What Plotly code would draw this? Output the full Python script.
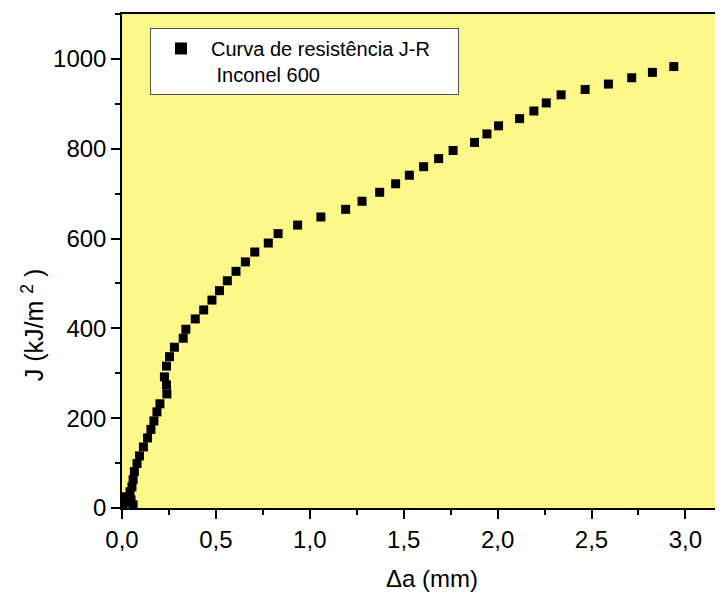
import plotly.graph_objects as go

# Crack extension Δa (mm) and J-integral (kJ/m²)
delta_a = [0.005, 0.027, 0.059, 0.016, 0.048, 0.043, 0.053, 0.059, 0.066, 0.080,
           0.093, 0.114, 0.136, 0.154, 0.170, 0.186, 0.202, 0.239, 0.237, 0.226,
           0.237, 0.253, 0.279, 0.326, 0.340, 0.390, 0.435, 0.479, 0.519, 0.561,
           0.607, 0.657, 0.707, 0.779, 0.831, 0.935, 1.059, 1.191, 1.278, 1.372,
           1.457, 1.530, 1.606, 1.686, 1.763, 1.877, 1.943, 2.005, 2.117, 2.193,
           2.259, 2.338, 2.466, 2.590, 2.714, 2.824, 2.938]
j_values = [5, 12, 7, 25, 18, 36, 47, 63, 81, 99,
            116, 136, 156, 175, 194, 214, 232, 254, 274, 292,
            316, 337, 358, 378, 398, 421, 441, 463, 484, 506,
            527, 548, 570, 590, 611, 630, 648, 665, 683, 703,
            722, 741, 760, 778, 796, 814, 833, 851, 867, 884,
            902, 920, 932, 944, 958, 970, 983]

series_name = "Curva de resistência J-R&nbsp;&nbsp;&nbsp;&nbsp;<br>&nbsp;Inconel 600"
x_title = "Δa (mm)"
y_title = "J (kJ/m&nbsp;<sup>2</sup>&nbsp;)"

FONT = "Liberation Sans, Arial, sans-serif"

fig = go.Figure()
fig.add_trace(go.Scatter(
    x=delta_a, y=j_values, mode="markers", name=series_name,
    marker=dict(symbol="square", size=9, color="black"),
    cliponaxis=True,
))

fig.update_layout(
    width=715, height=587,
    margin=dict(l=114, r=0, t=6, b=87),
    paper_bgcolor="white",
    plot_bgcolor="#FDF78A",
    separators=",.",
    showlegend=True,
    font=dict(family=FONT, color="black", size=24),
    legend=dict(
        x=0.0466, y=0.9717, xanchor="left", yanchor="top",
        bgcolor="white", bordercolor="#555555", borderwidth=1,
        font=dict(family=FONT, size=20, color="black"),
        itemsizing="constant", itemwidth=50, valign="top",
    ),
    xaxis=dict(
        range=[0, 3.2], tickmode="linear", tick0=0, dtick=0.5, tickformat=".1f",
        ticks="outside", ticklen=9, tickwidth=1.5, tickcolor="black",
        showline=True, linecolor="black", linewidth=1.5, mirror=True,
        showgrid=False, zeroline=False,
        tickfont=dict(family=FONT, size=24),
        minor=dict(dtick=0.25, ticks="outside", ticklen=5, tickwidth=1.5, tickcolor="black"),
    ),
    yaxis=dict(
        range=[0, 1100], tickmode="linear", tick0=0, dtick=200,
        ticks="outside", ticklen=9, tickwidth=1.5, tickcolor="black",
        showline=True, linecolor="black", linewidth=1.5, mirror=False,
        showgrid=False, zeroline=False,
        tickfont=dict(family=FONT, size=24),
        minor=dict(dtick=100, ticks="outside", ticklen=5, tickwidth=1.5, tickcolor="black"),
    ),
    annotations=[
        dict(text=x_title, xref="paper", yref="paper", x=0.516, y=-0.142,
             xanchor="center", yanchor="middle", showarrow=False,
             font=dict(family=FONT, size=24)),
        dict(text=y_title, xref="paper", yref="paper", x=-0.148, y=0.37,
             xanchor="center", yanchor="middle", showarrow=False, textangle=-90,
             font=dict(family=FONT, size=25)),
    ],
)

fig.write_html("out.html")
